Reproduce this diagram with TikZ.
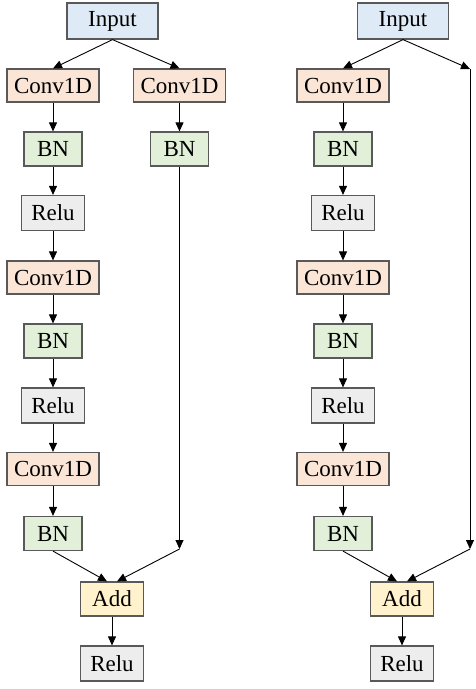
\documentclass[tikz,border=0pt]{standalone}
\usepackage{fontspec}
\setmainfont{Liberation Serif}
\usetikzlibrary{arrows.meta}
\definecolor{boxgray}{HTML}{595959}
\definecolor{inblue}{HTML}{DEEBF7}
\definecolor{convorange}{HTML}{FBE5D6}
\definecolor{bngreen}{HTML}{E2F0D9}
\definecolor{relugray}{HTML}{EDEDED}
\definecolor{addyellow}{HTML}{FFF2CC}
\begin{document}
\begin{tikzpicture}[x=1pt, y=-1pt,
  blk/.style={draw=boxgray, line width=1.2pt, inner sep=0pt, font=\fontsize{23}{25}\selectfont},
  inbox/.style={blk, fill=inblue, minimum width=91pt, minimum height=36pt},
  convbox/.style={blk, fill=convorange, minimum width=92pt, minimum height=33pt},
  bnbox/.style={blk, fill=bngreen, minimum width=58pt, minimum height=34pt},
  relubox/.style={blk, fill=relugray, minimum width=63pt, minimum height=35pt},
  addbox/.style={blk, fill=addyellow, minimum width=63pt, minimum height=34pt},
  arr/.style={-{Triangle[length=9pt,width=8pt]}, line width=0.9pt, draw=black}]
\useasboundingbox (0,0) rectangle (475,689);
% left block: shortcut with conv
\node[inbox] (inL) at (112.5,21) {Input};
\node[convbox] (convL1) at (53,85.5) {Conv1D};
\node[convbox] (convS) at (179.5,85.5) {Conv1D};
\node[bnbox] (bnL1) at (53,149) {BN};
\node[bnbox] (bnS) at (179.5,149) {BN};
\node[relubox] (reluL1) at (53,213) {Relu};
\node[convbox] (convL2) at (53,277.5) {Conv1D};
\node[bnbox] (bnL2) at (53,341) {BN};
\node[relubox] (reluL2) at (53,405.5) {Relu};
\node[convbox] (convL3) at (53,469) {Conv1D};
\node[bnbox] (bnL3) at (53,533.5) {BN};
\node[addbox] (addL) at (112,599) {Add};
\node[relubox] (reluL) at (112,663.5) {Relu};
\coordinate (skipL) at (179.5,549);
\draw [arr] (inL.south) -- (convL1.north);
\draw [arr] (inL.south) -- (convS.north);
\draw [arr] (convL1) -- (bnL1);
\draw [arr] (convS) -- (bnS);
\draw [arr] (bnL1) -- (reluL1);
\draw [arr] (reluL1) -- (convL2);
\draw [arr] (convL2) -- (bnL2);
\draw [arr] (bnL2) -- (reluL2);
\draw [arr] (reluL2) -- (convL3);
\draw [arr] (convL3) -- (bnL3);
\draw [arr] (bnS.south) -- (skipL);
\draw [arr] (bnL3.south) -- ([xshift=-5pt]addL.north);
\draw [arr] (skipL) -- ([xshift=5pt]addL.north);
\draw [arr] (addL) -- (reluL);
% right block: identity shortcut
\node[inbox] (inR) at (403,21) {Input};
\node[convbox] (convR1) at (343,85.5) {Conv1D};
\node[bnbox] (bnR1) at (343,149) {BN};
\node[relubox] (reluR1) at (343,213) {Relu};
\node[convbox] (convR2) at (343,277.5) {Conv1D};
\node[bnbox] (bnR2) at (343,341) {BN};
\node[relubox] (reluR2) at (343,405.5) {Relu};
\node[convbox] (convR3) at (343,469) {Conv1D};
\node[bnbox] (bnR3) at (343,533.5) {BN};
\node[addbox] (addR) at (402,599) {Add};
\node[relubox] (reluR) at (402,663.5) {Relu};
\coordinate (skipR1) at (470,69);
\coordinate (skipR2) at (470,549);
\draw [arr] (inR.south) -- (convR1.north);
\draw [arr] (inR.south) -- (skipR1);
\draw [arr] (convR1) -- (bnR1);
\draw [arr] (bnR1) -- (reluR1);
\draw [arr] (reluR1) -- (convR2);
\draw [arr] (convR2) -- (bnR2);
\draw [arr] (bnR2) -- (reluR2);
\draw [arr] (reluR2) -- (convR3);
\draw [arr] (convR3) -- (bnR3);
\draw [arr] (skipR1) -- (skipR2);
\draw [arr] (bnR3.south) -- ([xshift=-5pt]addR.north);
\draw [arr] (skipR2) -- ([xshift=5pt]addR.north);
\draw [arr] (addR) -- (reluR);
\end{tikzpicture}
\end{document}
